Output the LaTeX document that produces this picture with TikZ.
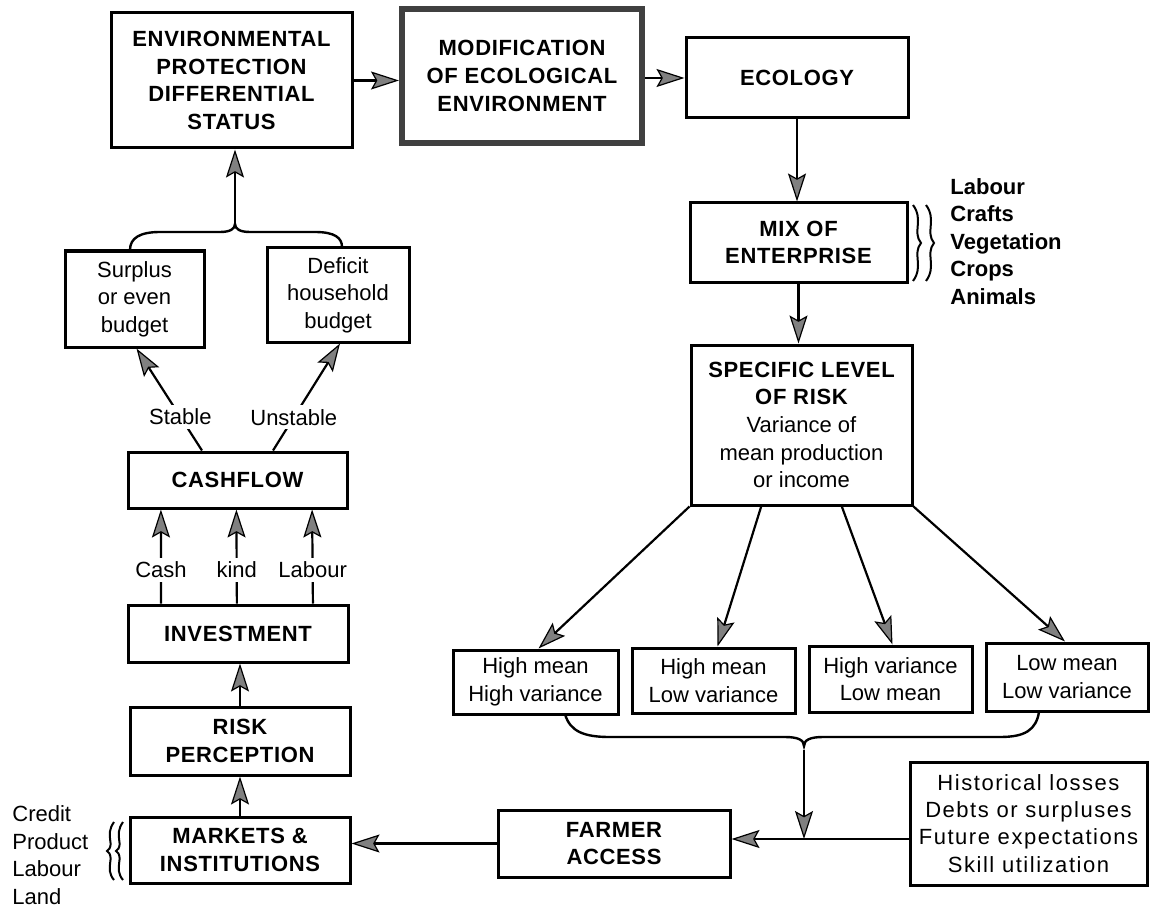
\documentclass[tikz,border=0pt]{standalone}
\usepackage{fontspec}
\setmainfont{Liberation Sans}
\newfontfamily\capfont{Liberation Sans}[LetterSpace=3]
\newfontfamily\histfont{Liberation Sans}[LetterSpace=7]
\usetikzlibrary{arrows.meta,calc}
\begin{document}
\begin{tikzpicture}[x=0.5pt,y=-0.5pt,
  box/.style={draw, line width=1.5pt, inner sep=0pt, align=center, font=\fontsize{11}{13.8}\selectfont},
  capbox/.style={box, font=\capfont\bfseries\fontsize{11}{13.8}\selectfont},
  lbl/.style={fill=white, inner sep=2pt, font=\fontsize{11}{13.8}\selectfont},
  arr/.style={line width=1.1pt, -{Stealth[length=14pt,width=9pt,inset=2.5pt,fill=black!50,line width=0.6pt]}},
  brace/.style={line width=1.2pt},
  squig/.style={line width=1pt}]
\useasboundingbox (0,0) rectangle (1150,909);

% right column
\node[capbox, minimum width=120.5pt, minimum height=67.5pt] (env) at (231.5,80.5) {ENVIRONMENTAL\\PROTECTION\\DIFFERENTIAL\\STATUS};
\node[capbox, draw=black!75, line width=3pt, minimum width=120pt, minimum height=67pt] (mod) at (522,76) {MODIFICATION\\OF ECOLOGICAL\\ENVIRONMENT};
\node[capbox, minimum width=111pt, minimum height=40pt] (eco) at (797,78) {ECOLOGY};
\node[capbox, minimum width=108.5pt, minimum height=39.5pt] (mix) at (798.5,242.5) {MIX OF\\ENTERPRISE};
\node[box, minimum width=110.5pt, minimum height=80pt] (spec) at (801.5,425) {{\capfont\bfseries SPECIFIC LEVEL}\\{\capfont\bfseries OF RISK}\\Variance of\\mean production\\or income};
\node[box, minimum width=82.5pt, minimum height=32pt] (hmhv) at (535.5,682) {High mean\\High variance};
\node[box, minimum width=81.5pt, minimum height=32.5pt] (hmlv) at (713.5,680.5) {High mean\\Low variance};
\node[box, minimum width=81.5pt, minimum height=33pt] (hvlm) at (890.5,679) {High variance\\Low mean};
\node[box, minimum width=81pt, minimum height=34pt] (lmlv) at (1067,677) {Low mean\\Low variance};
\node[capbox, minimum width=116pt, minimum height=33.5pt] (farmer) at (614,843.5) {FARMER\\ACCESS};
\node[box, font=\histfont\fontsize{11}{13.6}\selectfont, minimum width=118.5pt, minimum height=61.5pt] (hist) at (1028.5,823.5) {Historical losses\\Debts or surpluses\\Future expectations\\Skill utilization};

% left column
\node[box, minimum width=69.5pt, minimum height=48pt] (surplus) at (134.5,299) {Surplus\\or even\\budget};
\node[box, minimum width=71pt, minimum height=47pt] (deficit) at (338,295) {Deficit\\household\\budget};
\node[capbox, minimum width=109.5pt, minimum height=28pt] (cash) at (237.5,480) {CASHFLOW};
\node[capbox, minimum width=110pt, minimum height=28.5pt] (inv) at (238,633.5) {INVESTMENT};
\node[capbox, minimum width=110pt, minimum height=34pt] (risk) at (240,741) {RISK\\PERCEPTION};
\node[capbox, minimum width=110pt, minimum height=33pt] (markets) at (240,850) {MARKETS \&\\INSTITUTIONS};

% side lists
\node[anchor=west, align=left, inner sep=0pt, font=\bfseries\fontsize{11}{13.7}\selectfont] (mixlist) at (950,241.5) {Labour\\Crafts\\Vegetation\\Crops\\Animals};
\node[anchor=west, align=left, inner sep=0pt, font=\fontsize{11}{13.8}\selectfont] (mktlist) at (12,855) {Credit\\Product\\Labour\\Land};

% squiggly braces
\draw[squig] (913,205) .. controls (924,220) and (912,232) .. (921,243) .. controls (912,254) and (924,266) .. (913,281);
\draw[squig] (926,205) .. controls (937,220) and (925,232) .. (934,243) .. controls (925,254) and (937,266) .. (926,281);
\draw[squig] (114,822) .. controls (104,836) and (116,845) .. (107,851) .. controls (116,857) and (104,868) .. (114,880);
\draw[squig] (123,822) .. controls (113,836) and (125,845) .. (116,851) .. controls (125,857) and (113,868) .. (123,880);

% top connectors
\draw[arr] (env.east) -- (env.east -| mod.west);
\draw[arr] (mod.east |- eco.west) -- (eco.west);
\draw[arr] (eco.south) -- (eco.south |- mix.north);
\draw[arr] (mix.south) -- (mix.south |- spec.north);

% risk to outcomes
\draw[arr] (spec.south west) -- ($(hmhv.north)+(3,0)$);
\draw[arr] ($(spec.south west)!0.32!(spec.south east)$) -- ($(hmlv.north)+(4,0)$);
\draw[arr] ($(spec.south west)!0.68!(spec.south east)$) -- ($(hvlm.north)+(2,0)$);
\draw[arr] (spec.south east) -- ($(lmlv.north)+(-2,0)$);

% bottom brace
\draw[brace] (565,714) .. controls (570,732) and (585,737) .. (610,737) -- (785,737) .. controls (798,737) and (804,740) .. (804,746) .. controls (804,740) and (810,737) .. (823,737) -- (1000,737) .. controls (1025,737) and (1036,730) .. (1039,712);
\coordinate (btip) at (804,750);
\coordinate (jn) at (804,839);
\draw[arr] (btip) -- (jn);
\draw[arr] (hist.west |- jn) -- (farmer.east |- jn);
\draw[arr] (farmer.west) -- (farmer.west -| markets.east);

% left column connectors
\draw[arr] (markets.north) -- (markets.north |- risk.south);
\draw[arr] (risk.north) -- (risk.north |- inv.south);
\draw[arr] ($(inv.north west)!0.155!(inv.north east)$) -- node[lbl, pos=0.36] (lcash) {Cash} ($(cash.south west)!0.155!(cash.south east)$);
\draw[arr] ($(inv.north west)!0.495!(inv.north east)$) -- node[lbl, pos=0.36] (lkind) {kind} ($(cash.south west)!0.495!(cash.south east)$);
\draw[arr] ($(inv.north west)!0.836!(inv.north east)$) -- node[lbl, pos=0.36] (llab) {Labour} ($(cash.south west)!0.836!(cash.south east)$);
\draw[arr] ($(cash.north west)!0.34!(cash.north east)$) -- node[lbl, pos=0.33] (stable) {Stable} ($(surplus.south)+(2,0)$);
\draw[arr] ($(cash.north west)!0.66!(cash.north east)$) -- node[lbl, pos=0.31] (unstable) {Unstable} ($(deficit.south)+(2,0)$);

% top brace
\draw[brace] (130,250) .. controls (130,238) and (140,232) .. (160,232) -- (220,232) .. controls (230,232) and (235,229) .. (235,224) .. controls (235,229) and (240,232) .. (250,232) -- (315,232) .. controls (335,232) and (342,238) .. (342,247);
\coordinate (ttip) at (235,224);
\draw[arr] (ttip) -- (ttip |- env.south);
\end{tikzpicture}
\end{document}
